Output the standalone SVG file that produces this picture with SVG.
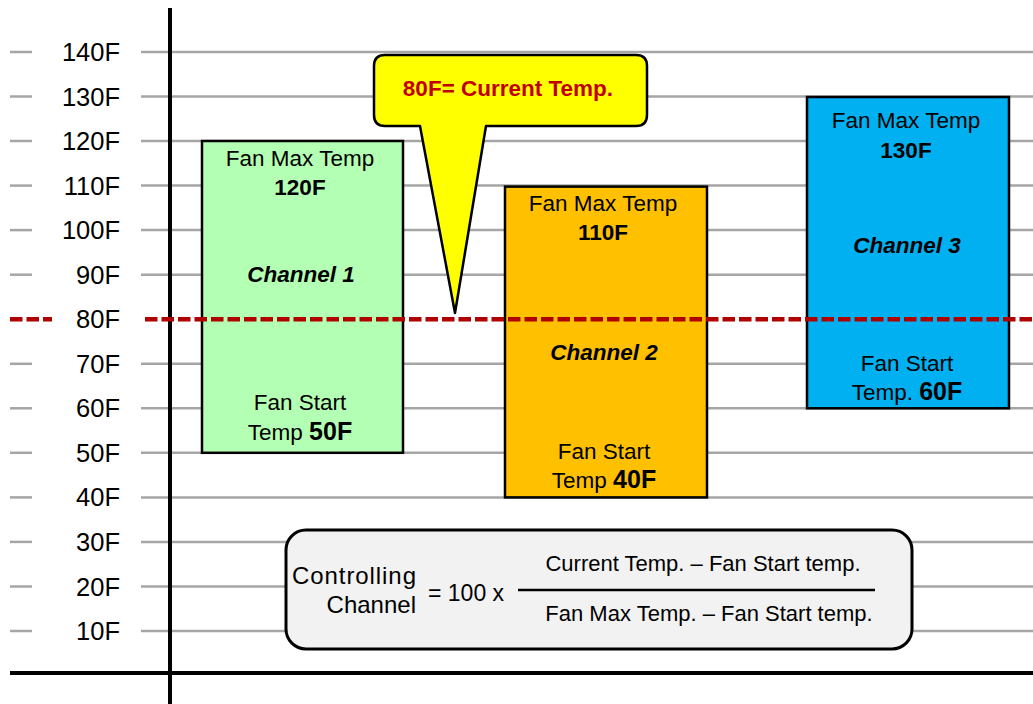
<svg xmlns="http://www.w3.org/2000/svg" width="1033" height="704" viewBox="0 0 1033 704">
<style>
text{font-family:"Liberation Sans",Arial,sans-serif;fill:#000}
.grid{stroke:#a6a6a6;stroke-width:2.5}
.lbl{font-size:25.5px;text-anchor:end}
.box{stroke:#000;stroke-width:2.5}
.t{font-size:22.5px;text-anchor:middle}
.b{font-weight:bold}
.bi{font-weight:bold;font-style:italic}
.f{font-size:22px}
</style>
<rect width="1033" height="704" fill="#fff"/>
<g id="grid">
<g class="grid">
<line x1="10" y1="52" x2="32" y2="52"/><line x1="141" y1="52" x2="1033" y2="52"/>
<line x1="10" y1="96.5" x2="32" y2="96.5"/><line x1="141" y1="96.5" x2="1033" y2="96.5"/>
<line x1="10" y1="141" x2="32" y2="141"/><line x1="141" y1="141" x2="1033" y2="141"/>
<line x1="10" y1="185.6" x2="32" y2="185.6"/><line x1="141" y1="185.6" x2="1033" y2="185.6"/>
<line x1="10" y1="230.1" x2="32" y2="230.1"/><line x1="141" y1="230.1" x2="1033" y2="230.1"/>
<line x1="10" y1="274.7" x2="32" y2="274.7"/><line x1="141" y1="274.7" x2="1033" y2="274.7"/>
<line x1="10" y1="363.8" x2="32" y2="363.8"/><line x1="141" y1="363.8" x2="1033" y2="363.8"/>
<line x1="10" y1="408.3" x2="32" y2="408.3"/><line x1="141" y1="408.3" x2="1033" y2="408.3"/>
<line x1="10" y1="452.8" x2="32" y2="452.8"/><line x1="141" y1="452.8" x2="1033" y2="452.8"/>
<line x1="10" y1="497.4" x2="32" y2="497.4"/><line x1="141" y1="497.4" x2="1033" y2="497.4"/>
<line x1="10" y1="541.9" x2="32" y2="541.9"/><line x1="141" y1="541.9" x2="1033" y2="541.9"/>
<line x1="10" y1="586.5" x2="32" y2="586.5"/><line x1="141" y1="586.5" x2="1033" y2="586.5"/>
<line x1="10" y1="631" x2="32" y2="631"/><line x1="141" y1="631" x2="1033" y2="631"/>
</g>
<g>
<text class="lbl" x="120" y="61">140F</text>
<text class="lbl" x="120" y="105.5">130F</text>
<text class="lbl" x="120" y="150">120F</text>
<text class="lbl" x="120" y="194.6">110F</text>
<text class="lbl" x="120" y="239.1">100F</text>
<text class="lbl" x="120" y="283.7">90F</text>
<text class="lbl" x="120" y="328.2">80F</text>
<text class="lbl" x="120" y="372.8">70F</text>
<text class="lbl" x="120" y="417.3">60F</text>
<text class="lbl" x="120" y="461.8">50F</text>
<text class="lbl" x="120" y="506.4">40F</text>
<text class="lbl" x="120" y="550.9">30F</text>
<text class="lbl" x="120" y="595.5">20F</text>
<text class="lbl" x="120" y="640">10F</text>
</g>
</g>
<g id="axes" stroke="#000" stroke-width="4">
<line x1="170" y1="8" x2="170" y2="704"/>
<line x1="10" y1="673" x2="1033" y2="673"/>
</g>
<g id="channel1">
<rect class="box" x="202" y="141" width="201" height="311.8" fill="#b3ffb3"/>
<text class="t" x="300" y="166">Fan Max Temp</text>
<text class="t b" x="300" y="195" font-size="25">120F</text>
<text class="t bi" x="301" y="282">Channel 1</text>
<text class="t" x="300" y="410">Fan Start</text>
<text class="t" x="300" y="440">Temp <tspan class="b" font-size="25">50F</tspan></text>
</g>
<g id="channel2">
<rect class="box" x="505" y="186.6" width="202" height="310.8" fill="#ffc000"/>
<text class="t" x="603" y="211">Fan Max Temp</text>
<text class="t b" x="603" y="240" font-size="25">110F</text>
<text class="t bi" x="604" y="360">Channel 2</text>
<text class="t" x="604" y="459">Fan Start</text>
<text class="t" x="604" y="488">Temp <tspan class="b" font-size="25">40F</tspan></text>
</g>
<g id="channel3">
<rect class="box" x="807" y="97" width="202" height="311.3" fill="#00b0f0"/>
<text class="t" x="906" y="128">Fan Max Temp</text>
<text class="t b" x="906" y="158" font-size="25">130F</text>
<text class="t bi" x="907" y="253">Channel 3</text>
<text class="t" x="907" y="371">Fan Start</text>
<text class="t" x="907" y="400">Temp. <tspan class="b" font-size="25">60F</tspan></text>
</g>
<g id="current-line" stroke="#b00000" stroke-width="4.5" stroke-dasharray="12.5,4">
<line x1="10" y1="319.2" x2="52" y2="319.2"/>
<line x1="145" y1="319.2" x2="1033" y2="319.2"/>
</g>
<g id="callout">
<path d="M385,55 H636 Q647,55 647,66 V115 Q647,126 636,126 H486 L455,313 L420,126 H385 Q374,126 374,115 V66 Q374,55 385,55 Z" fill="#ffff00" stroke="#000" stroke-width="2.5" stroke-linejoin="round"/>
<text x="508" y="96" font-size="22.5" font-weight="bold" text-anchor="middle" style="fill:#c00000">80F= Current Temp.</text>
</g>
<g id="formula">
<rect x="286" y="530" width="626" height="119" rx="20" ry="20" fill="#f2f2f2" stroke="#000" stroke-width="3"/>
<text x="292" y="584" font-size="24" textLength="124">Controlling</text>
<text x="416" y="613" font-size="24" text-anchor="end">Channel</text>
<text x="428" y="601" font-size="23">= 100 x</text>
<line x1="518" y1="590" x2="875" y2="590" stroke="#000" stroke-width="2.5"/>
<text class="f" x="703" y="571" text-anchor="middle">Current Temp. – Fan Start temp.</text>
<text class="f" x="709" y="621" text-anchor="middle">Fan Max Temp. – Fan Start temp.</text>
</g>
</svg>
